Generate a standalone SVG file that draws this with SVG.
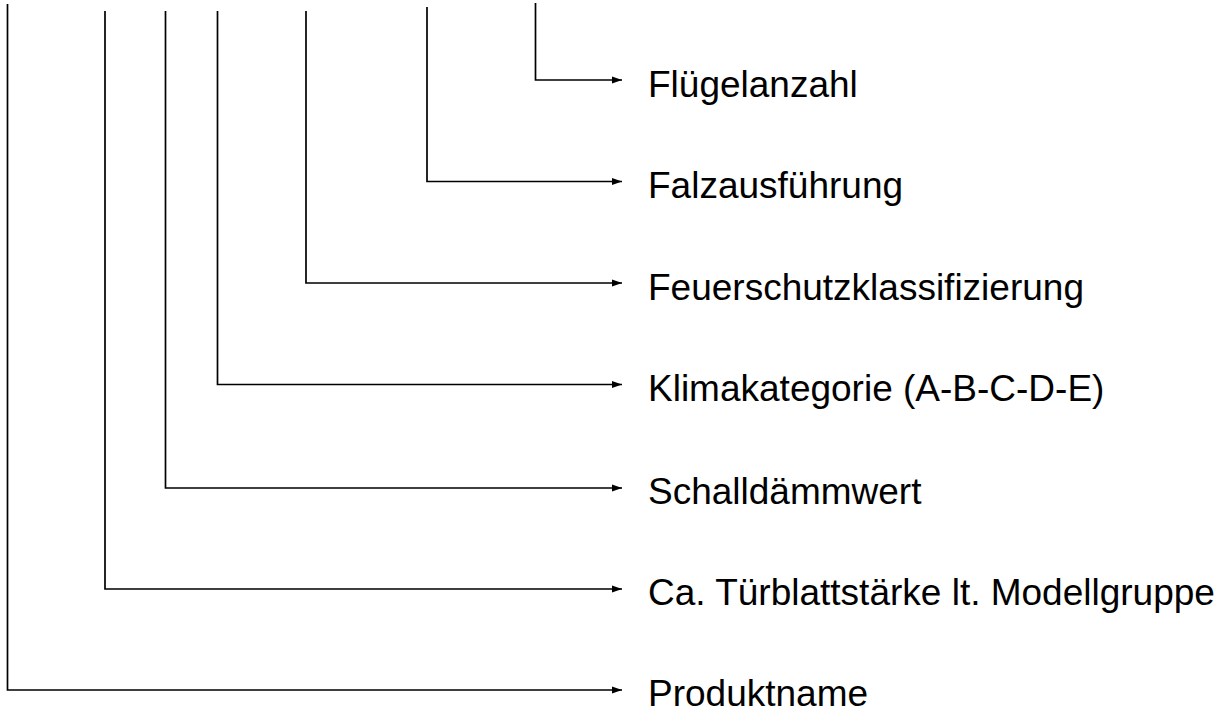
<svg xmlns="http://www.w3.org/2000/svg" width="1230" height="712" viewBox="0 0 1230 712">
<defs>
<marker id="ah" markerWidth="11" markerHeight="9" refX="10" refY="4.5" orient="auto" markerUnits="userSpaceOnUse">
<path d="M0,1 L10,4.5 L0,8 Z" fill="#000"/>
</marker>
<style>
.c{fill:none;stroke:#000;stroke-width:1.7}
.t{font-family:"Liberation Sans",Arial,sans-serif;font-size:37px;fill:#000}
</style>
</defs>
<rect width="1230" height="712" fill="#fff"/>
<g id="connectors">
<path class="c" d="M535.5,3 V80 H622" marker-end="url(#ah)"/>
<path class="c" d="M427,7 V181.5 H622" marker-end="url(#ah)"/>
<path class="c" d="M306,11 V283 H622" marker-end="url(#ah)"/>
<path class="c" d="M217.5,11 V384.5 H622" marker-end="url(#ah)"/>
<path class="c" d="M165.5,11 V488 H622" marker-end="url(#ah)"/>
<path class="c" d="M105,11 V589 H622" marker-end="url(#ah)"/>
<path class="c" d="M7.5,4 V690 H622" marker-end="url(#ah)"/>
</g>
<g id="n1"><text class="t" x="648" y="97">Flügelanzahl</text></g>
<g id="n2"><text class="t" x="648" y="198">Falzausführung</text></g>
<g id="n3"><text class="t" x="648" y="300">Feuerschutzklassifizierung</text></g>
<g id="n4"><text class="t" x="648" y="401">Klimakategorie (A-B-C-D-E)</text></g>
<g id="n5"><text class="t" x="648" y="504">Schalldämmwert</text></g>
<g id="n6"><text class="t" x="648" y="605">Ca. Türblattstärke lt. Modellgruppe</text></g>
<g id="n7"><text class="t" x="648" y="706">Produktname</text></g>
</svg>
